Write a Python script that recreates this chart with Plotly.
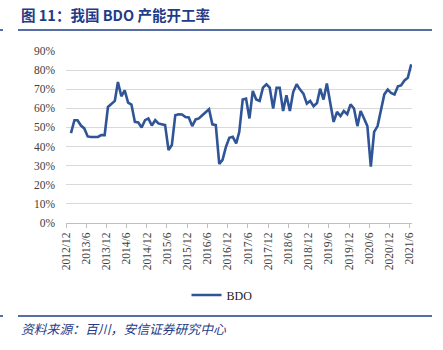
import pandas as pd
import plotly.graph_objects as go

# Monthly BDO operating rate (%), 2013/1 - 2021/6
months = pd.date_range("2013-01-01", periods=102, freq="MS") + pd.Timedelta(days=14)
bdo = [47, 53.8, 53.8, 51, 49.5, 45.3, 45, 45, 45, 46, 46, 60.7,
       62.5, 63.9, 73.8, 66.3, 69.4, 63, 62, 52.9, 52.6, 50, 53.8, 54.7,
       51, 53.8, 52.1, 51.6, 51.2, 38.2, 40.8, 56.4, 56.9, 56.8, 55.5, 55.2,
       50.7, 54.2, 54.7, 56.4, 57.8, 59.5, 51.6, 51.2, 30.9, 33, 39.9, 44.6,
       45.1, 41.7, 47.7, 64.6, 65.1, 54.7, 69.1, 64.6, 63.9, 70.8, 72.6, 70.8,
       59.9, 70.8, 70.8, 58.6, 66.8, 58.6, 68.5, 72.6, 69.8, 67.7, 62.5, 63.9,
       61.1, 62.8, 70.3, 64.6, 73, 62, 52.9, 58.1, 56, 58.6, 56.9, 62.1,
       59.9, 50.7, 58.6, 54.7, 50.7, 29.5, 47.7, 50.7, 59, 67.3, 69.8, 68,
       67.2, 71.5, 72, 74.6, 76, 83]
y_ticks = [0, 10, 20, 30, 40, 50, 60, 70, 80, 90]
y_ticklabels = [f"{v}%" for v in y_ticks]

title_text = "图 11：我国 BDO 产能开工率"
source_text = "资料来源：百川，安信证券研究中心"
series_name = "BDO"

L, R, T, B = 66, 31, 51, 127
W, H = 443, 350
pw, ph = W - L - R, H - T - B

def px(x):
    return (x - L) / pw

def py(y):
    return (H - B - y) / ph

fig = go.Figure()
fig.add_trace(go.Scatter(x=months, y=bdo, mode="lines", name=series_name,
                         line=dict(color="#2F5597", width=2.6)))

serif = "Liberation Serif, Times New Roman, serif"
fig.update_layout(
    width=W, height=H, margin=dict(l=L, r=R, t=T, b=B),
    paper_bgcolor="white", plot_bgcolor="white",
    showlegend=True,
    legend=dict(orientation="h", x=px(222), y=py(295), xanchor="center", yanchor="middle",
                font=dict(family=serif, size=12, color="#222222"),
                itemwidth=30, bgcolor="rgba(0,0,0,0)"),
    xaxis=dict(type="date", range=["2012-12-01", "2021-06-22"],
               tick0="2012-12-01", dtick="M6", tickformat="%Y/%-m",
               tickangle=-90, ticks="outside", ticklen=4, tickcolor="#BFBFBF",
               showline=True, linecolor="#BFBFBF", linewidth=1,
               showgrid=False, zeroline=False,
               tickfont=dict(family=serif, size=11.5, color="#404040")),
    yaxis=dict(range=[0, 90], tickvals=y_ticks, ticktext=y_ticklabels,
               showgrid=True, gridcolor="#D9D9D9", gridwidth=1,
               zeroline=False, showline=False, ticks="",
               ticklabelstandoff=10,
               tickfont=dict(family=serif, size=11.5, color="#404040")),
)

fig.add_annotation(text="<b>" + title_text + "</b>", xref="paper", yref="paper",
                   x=px(19), y=py(14), xanchor="left", yanchor="middle", showarrow=False,
                   font=dict(family="Noto Sans CJK SC, sans-serif", size=14.5, color="#1F3C88"))
fig.add_annotation(text="<i>" + source_text + "</i>", xref="paper", yref="paper",
                   x=px(19), y=py(328), xanchor="left", yanchor="middle", showarrow=False,
                   font=dict(family="Noto Sans CJK SC, sans-serif", size=12.8, color="#1F3C88"))

for yy in (30, 316):
    fig.add_shape(type="line", xref="paper", yref="paper",
                  x0=px(18), x1=px(432), y0=py(yy), y1=py(yy),
                  line=dict(color="#1F3C88", width=1.5))
    fig.add_shape(type="line", xref="paper", yref="paper",
                  x0=px(0), x1=px(3), y0=py(yy), y1=py(yy),
                  line=dict(color="#1F3C88", width=1.5))

fig.write_html("out.html")
